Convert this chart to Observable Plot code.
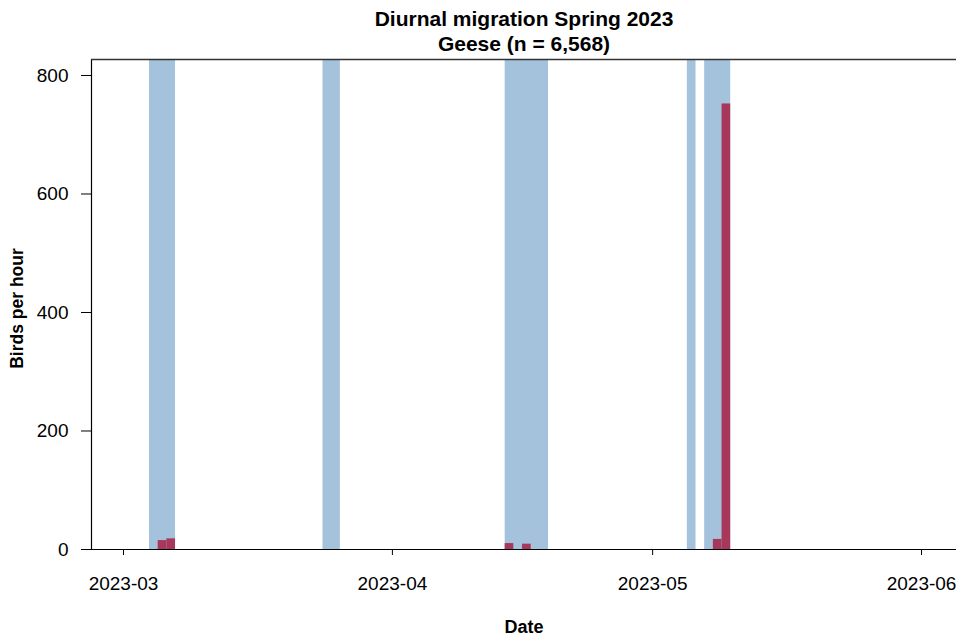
<!DOCTYPE html>
<html>
<head>
<meta charset="utf-8">
<script src="https://cdn.jsdelivr.net/npm/d3@7"></script>
<script src="https://cdn.jsdelivr.net/npm/@observablehq/plot@0.6"></script>
<style>
  html, body { margin: 0; padding: 0; background: #fff; }
  #chart svg { display: block; }
</style>
</head>
<body>
<div id="chart"></div>
<script>
// ---- data ----
const titleLine1 = "Diurnal migration Spring 2023";
const titleLine2 = "Geese (n = 6,568)";
const xLabel = "Date";
const yLabel = "Birds per hour";

// shaded observation periods (start inclusive, end exclusive)
const bandStart = ["2023-03-04", "2023-03-24", "2023-04-14", "2023-05-05", "2023-05-07"];
const bandEnd   = ["2023-03-07", "2023-03-26", "2023-04-19", "2023-05-06", "2023-05-10"];

// daily bars
const barDays   = ["2023-03-05", "2023-03-06", "2023-04-14", "2023-04-16", "2023-05-08", "2023-05-09"];
const barValues = [15, 18, 10, 9, 17, 752];

// axis ticks
const monthTicks = ["2023-03-01", "2023-04-01", "2023-05-01", "2023-06-01"];
const yTicks = [0, 200, 400, 600, 800];

// scale extents
const xDomain = ["2023-02-25T07:30Z", "2023-06-05T00:43Z"];
const yMax = 827;

// ---- build ----
const parse = s => new Date(s.length === 10 ? s + "T00:00Z" : s);
const bands = bandStart.map((s, i) => ({start: parse(s), end: parse(bandEnd[i])}));
const bars = barDays.map((d, i) => ({start: parse(d), end: d3.utcDay.offset(parse(d), 1), value: barValues[i]}));
const xd = xDomain.map(parse);

const blue = "#a4c2dc";
const red = "#a8385b";

const chart = Plot.plot({
  width: 956,
  height: 639,
  marginLeft: 91,
  marginRight: 0,
  marginTop: 59,
  marginBottom: 90,
  style: {fontFamily: "'Liberation Sans', Arial, sans-serif", fontSize: "19px", color: "black", background: "white"},
  x: {type: "utc", domain: xd},
  y: {domain: [0, yMax]},
  marks: [
    Plot.rect(bands, {x1: "start", x2: "end", fill: blue}),
    Plot.rect(bars, {x1: "start", x2: "end", y1: 0, y2: "value", fill: red}),
    Plot.ruleX([xd[0]], {stroke: "black", strokeWidth: 1.2}),
    Plot.ruleY([yMax], {stroke: "#333", strokeWidth: 1.5}),
    Plot.ruleY([0], {stroke: "black", strokeWidth: 1.2}),
    Plot.axisX({
      ticks: monthTicks.map(parse),
      tickFormat: d3.utcFormat("%Y-%m"),
      tickSize: 6,
      tickPadding: 21,
      label: null,
      fontSize: 19
    }),
    Plot.axisY({
      ticks: yTicks,
      tickSize: 10,
      tickPadding: 13,
      label: null,
      fontSize: 19
    }),
    Plot.text([titleLine1], {text: d => d, frameAnchor: "top", dy: -48, fontWeight: "bold", fontSize: 21}),
    Plot.text([titleLine2], {text: d => d, frameAnchor: "top", dy: -23, fontWeight: "bold", fontSize: 21}),
    Plot.text([xLabel], {text: d => d, frameAnchor: "bottom", dy: 83, fontWeight: "bold", fontSize: 18}),
    Plot.text([yLabel], {text: d => d, frameAnchor: "left", textAnchor: "middle", dx: -74, dy: 4, rotate: -90, fontWeight: "bold", fontSize: 17.5})
  ]
});
document.getElementById("chart").appendChild(chart);
</script>
</body>
</html>
